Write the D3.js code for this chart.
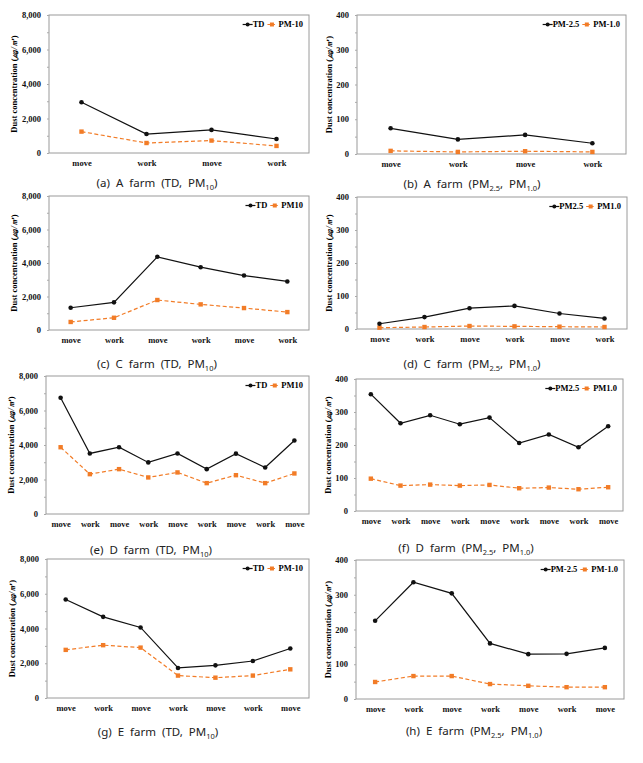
<!DOCTYPE html>
<html>
<head>
<meta charset="utf-8">
<script src="https://cdn.jsdelivr.net/npm/d3@7"></script>
<style>
  body { margin: 0; background: #fff; }
  .serif { font-family: "Liberation Serif", "Times New Roman", serif; font-weight: bold; }
  .cap { font-family: "Noto Sans", "DejaVu Sans", sans-serif; }
</style>
</head>
<body>
<div id="chart"></div>
<script>
// categories
const catA = ["move", "work", "move", "work"];
const catC = ["move", "work", "move", "work", "move", "work"];
const catD = ["move", "work", "move", "work", "move", "work", "move", "work", "move"];
const catE = ["move", "work", "move", "work", "move", "work", "move"];

// A farm
const tdA = [2940, 1100, 1340, 810];
const pm10A = [1240, 580, 720, 410];
const pm25A = [74, 42, 55, 31];
const pm1A = [9, 6, 8, 6];
// C farm
const tdC = [1330, 1650, 4370, 3750, 3250, 2900];
const pm10C = [480, 730, 1790, 1530, 1310, 1070];
const pm25C = [16, 36, 63, 70, 47, 32];
const pm1C = [4, 6, 9, 8, 7, 6];
// D farm
const tdD = [6740, 3510, 3870, 2990, 3510, 2600, 3500, 2700, 4260];
const pm10D = [3870, 2310, 2600, 2120, 2410, 1790, 2250, 1790, 2350];
const pm25D = [354, 266, 290, 263, 283, 206, 232, 193, 257];
const pm1D = [98, 77, 80, 77, 79, 69, 71, 66, 72];
// E farm
const tdE = [5670, 4670, 4060, 1730, 1880, 2130, 2850];
const pm10E = [2770, 3040, 2900, 1290, 1170, 1290, 1650];
const pm25E = [225, 336, 304, 160, 129, 130, 147];
const pm1E = [49, 66, 66, 43, 38, 34, 34];

// tick labels
const tdTicks = [0, 2000, 4000, 6000, 8000];
const pmTicks = [0, 100, 200, 300, 400];

const orange = "#f27c27";

const svg = d3.select('#chart').append('svg')
    .attr('width', 643)
    .attr('height', 763)
    .style('display', 'block');

svg.append('rect').attr('width', 643).attr('height', 763).attr('fill', '#fff');

const panels = [
  { cats: catA, s1: tdA, s2: pm10A, names: ["TD", "PM-10"], ticks: tdTicks, box: [49, 15, 309, 153], cx: 157, cy: 187,
    cap: [["(a)  A  farm  (TD,  PM", 0], ["10", 1], [")", 0]] },
  { cats: catA, s1: pm25A, s2: pm1A, names: ["PM-2.5", "PM-1.0"], ticks: pmTicks, box: [357, 15, 626, 154], cx: 472, cy: 188,
    cap: [["(b)  A  farm  (PM", 0], ["2.5", 1], [",  PM", 0], ["1.0", 1], [")", 0]] },
  { cats: catC, s1: tdC, s2: pm10C, names: ["TD", "PM10"], ticks: tdTicks, box: [49, 196, 309, 330], cx: 157, cy: 368,
    cap: [["(c)  C  farm  (TD,  PM", 0], ["10", 1], [")", 0]] },
  { cats: catC, s1: pm25C, s2: pm1C, names: ["PM2.5", "PM1.0"], ticks: pmTicks, box: [357, 197, 627, 329], cx: 472, cy: 368,
    cap: [["(d)  C  farm  (PM", 0], ["2.5", 1], [",  PM", 0], ["1.0", 1], [")", 0]] },
  { cats: catD, s1: tdD, s2: pm10D, names: ["TD", "PM10"], ticks: tdTicks, box: [46, 376, 309, 514], cx: 151, cy: 554,
    cap: [["(e)  D  farm  (TD,  PM", 0], ["10", 1], [")", 0]] },
  { cats: catD, s1: pm25D, s2: pm1D, names: ["PM2.5", "PM1.0"], ticks: pmTicks, box: [356, 379, 623, 511], cx: 466, cy: 552,
    cap: [["(f)  D  farm  (PM", 0], ["2.5", 1], [",  PM", 0], ["1.0", 1], [")", 0]] },
  { cats: catE, s1: tdE, s2: pm10E, names: ["TD", "PM-10"], ticks: tdTicks, box: [47, 559, 309, 698], cx: 158, cy: 736,
    cap: [["(g)  E  farm  (TD,  PM", 0], ["10", 1], [")", 0]] },
  { cats: catE, s1: pm25E, s2: pm1E, names: ["PM-2.5", "PM-1.0"], ticks: pmTicks, box: [356, 560, 624, 699], cx: 474, cy: 735,
    cap: [["(h)  E  farm  (PM", 0], ["2.5", 1], [",  PM", 0], ["1.0", 1], [")", 0]] }
];

panels.forEach(drawPanel);

function drawPanel(p) {
    const [l, t, r, b] = p.box;
    const g = svg.append('g');
    const maxY = d3.max(p.ticks);

    const xScale = d3.scalePoint()
        .domain(d3.range(p.cats.length))
        .range([l, r])
        .padding(0.5);
    const yScale = d3.scaleLinear()
        .domain([0, maxY])
        .range([b, t]);

    // plot frame
    g.append('rect')
        .attr('x', l).attr('y', t)
        .attr('width', r - l).attr('height', b - t)
        .attr('fill', 'none')
        .attr('stroke', '#9a9a9a')
        .attr('stroke-width', 1);

    // minor ticks
    const step = p.ticks[1] / 2;
    const minorAxis = g.append('g')
        .attr('transform', `translate(${l}, 0)`)
        .call(d3.axisLeft(yScale).tickValues(d3.range(0, maxY + step / 2, step)).tickSize(2).tickFormat(''));
    minorAxis.select('.domain').remove();
    minorAxis.selectAll('line').attr('stroke', '#aaa');

    // y axis labels
    const yAxis = g.append('g')
        .attr('transform', `translate(${l}, 0)`)
        .call(d3.axisLeft(yScale).tickValues(p.ticks).tickSize(0).tickPadding(8).tickFormat(d3.format(',')));
    yAxis.select('.domain').remove();
    yAxis.selectAll('text')
        .attr('class', 'serif')
        .attr('font-size', 8.5)
        .attr('fill', '#111');

    // x axis labels
    const xAxis = g.append('g')
        .attr('transform', `translate(0, ${b})`)
        .call(d3.axisBottom(xScale).tickSize(0).tickPadding(7).tickFormat(i => p.cats[i]));
    xAxis.select('.domain').remove();
    xAxis.selectAll('text')
        .attr('class', 'serif')
        .attr('font-size', 8.5)
        .attr('fill', '#111');

    // y title
    const titleOff = maxY > 1000 ? 35 : 28;
    const title = g.append('text')
        .attr('class', 'serif')
        .attr('font-size', 8.5)
        .attr('text-anchor', 'middle')
        .attr('transform', `translate(${l - titleOff}, ${(t + b) / 2}) rotate(-90)`)
        .attr('dy', '0.35em');
    title.append('tspan').text('Dust concentration (');
    title.append('tspan').attr('font-style', 'italic').text('㎍/㎥');
    title.append('tspan').text(')');

    // lines
    const line = d3.line()
        .x((d, i) => xScale(i))
        .y(d => yScale(d));

    g.append('path')
        .attr('d', line(p.s2))
        .attr('fill', 'none')
        .attr('stroke', orange)
        .attr('stroke-width', 1.2)
        .attr('stroke-dasharray', '4,2.5');
    g.append('g').selectAll('rect')
        .data(p.s2)
        .join('rect')
        .attr('x', (d, i) => xScale(i) - 2.2)
        .attr('y', d => yScale(d) - 2.2)
        .attr('width', 4.4).attr('height', 4.4)
        .attr('fill', orange);

    g.append('path')
        .attr('d', line(p.s1))
        .attr('fill', 'none')
        .attr('stroke', '#111')
        .attr('stroke-width', 1.2);
    g.append('g').selectAll('circle')
        .data(p.s1)
        .join('circle')
        .attr('cx', (d, i) => xScale(i))
        .attr('cy', d => yScale(d))
        .attr('r', 2.3)
        .attr('fill', '#111');

    // legend, right aligned inside the frame
    const ly = t + 9.5;
    const leg = g.append('g');
    const t2 = leg.append('text').attr('class', 'serif').attr('font-size', 8.5).attr('dy', '0.35em').text(p.names[1]);
    const w2 = t2.node().getComputedTextLength();
    const x2 = r - 6 - w2;
    t2.attr('x', x2).attr('y', ly);
    leg.append('line').attr('x1', x2 - 11).attr('x2', x2 - 2).attr('y1', ly).attr('y2', ly)
        .attr('stroke', orange).attr('stroke-width', 1.2).attr('stroke-dasharray', '3,1.5');
    leg.append('rect').attr('x', x2 - 8.5).attr('y', ly - 2).attr('width', 4).attr('height', 4).attr('fill', orange);

    const t1 = leg.append('text').attr('class', 'serif').attr('font-size', 8.5).attr('dy', '0.35em').text(p.names[0]);
    const w1 = t1.node().getComputedTextLength();
    const x1 = x2 - 14 - w1;
    t1.attr('x', x1).attr('y', ly);
    leg.append('line').attr('x1', x1 - 10).attr('x2', x1).attr('y1', ly).attr('y2', ly)
        .attr('stroke', '#111').attr('stroke-width', 1.2);
    leg.append('circle').attr('cx', x1 - 5).attr('cy', ly).attr('r', 2).attr('fill', '#111');

    // caption
    const cap = g.append('text')
        .attr('class', 'cap')
        .attr('font-size', 11.5)
        .attr('fill', '#222')
        .attr('x', p.cx).attr('y', p.cy)
        .attr('text-anchor', 'middle')
        .style('white-space', 'pre');
    p.cap.forEach(([txt, sub]) => {
        const s = cap.append('tspan').text(txt);
        if (sub) s.attr('font-size', 7.5).attr('dy', 2.5);
        else s.attr('dy', s.node().previousSibling ? -2.5 : 0);
    });
}
</script>
</body>
</html>
